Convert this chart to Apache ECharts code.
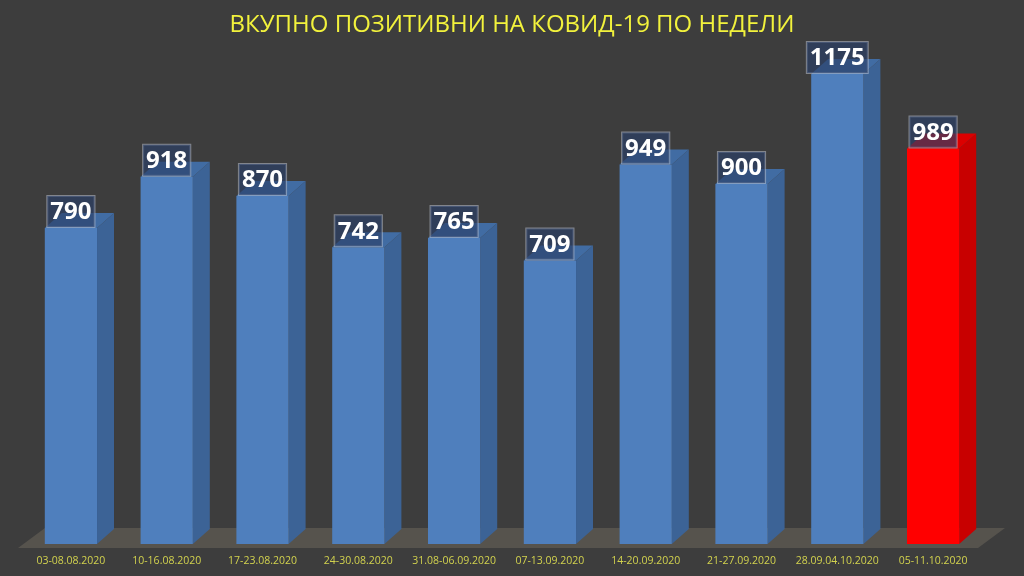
<!DOCTYPE html>
<html>
<head>
<meta charset="utf-8">
<script src="https://cdn.jsdelivr.net/npm/echarts@6/dist/echarts.min.js"></script>
<style>
  html, body { margin: 0; padding: 0; background: #3d3d3d; }
  #chart { width: 1024px; height: 576px; }
</style>
</head>
<body>
<div id="chart"></div>
<script>
// недели и вкупно позитивни
var weeks = ['03-08.08.2020', '10-16.08.2020', '17-23.08.2020', '24-30.08.2020', '31.08-06.09.2020',
             '07-13.09.2020', '14-20.09.2020', '21-27.09.2020', '28.09.04.10.2020', '05-11.10.2020'];
var positives = [790, 918, 870, 742, 765, 709, 949, 900, 1175, 989];
var highlightWeek = '05-11.10.2020';

var chart = echarts.init(document.getElementById('chart'));

// длабочина на 3D столбот
var DX = 17, DY = -15;

function renderBar(params, api) {
  var idx = api.value(0);
  var val = api.value(1);
  var top = api.coord([idx, val]);
  var base = api.coord([idx, 0]);
  var w = api.size([1, 0])[0] * 0.545;
  var x = top[0] - w / 2;
  var red = weeks[idx] === highlightWeek;
  var front = red ? '#ff0000' : '#4f7fbd';
  var side = red ? '#c80000' : '#3c6396';
  var cap = red ? '#dc0000' : '#416ca3';
  return {
    type: 'group',
    children: [
      { type: 'polygon', shape: { points: [[x + w, top[1]], [x + w + DX, top[1] + DY], [x + w + DX, base[1] + DY], [x + w, base[1]]] },
        style: { fill: side } },
      { type: 'polygon', shape: { points: [[x, top[1]], [x + DX, top[1] + DY], [x + w + DX, top[1] + DY], [x + w, top[1]]] },
        style: { fill: cap } },
      { type: 'rect', shape: { x: x, y: top[1], width: w, height: base[1] - top[1] },
        style: { fill: front } },
      { type: 'text', x: top[0], y: top[1] - 1,
        style: {
          text: String(val), fill: '#ffffff', fontSize: 24, fontWeight: 'bold', fontFamily: 'Open Sans',
          align: 'center', verticalAlign: 'bottom', lineHeight: 29,
          backgroundColor: 'rgba(42,64,104,0.66)', borderColor: 'rgba(200,205,220,0.5)', borderWidth: 1,
          padding: [2, 3, 0, 3]
        } }
    ]
  };
}

function renderFloor(params, api) {
  var cs = params.coordSys;
  var y0 = api.coord([0, 0])[1];
  var l = cs.x - 5, r = cs.x + cs.width - 3;
  return {
    type: 'polygon',
    shape: { points: [[l, y0 + 4], [r, y0 + 4], [r + 27, y0 - 16], [l + 27, y0 - 16]] },
    style: { fill: '#56534d' }
  };
}

var option = {
  backgroundColor: '#3d3d3d',
  title: {
    text: 'ВКУПНО ПОЗИТИВНИ НА КОВИД-19 ПО НЕДЕЛИ',
    left: 'center',
    top: 8,
    textStyle: { color: '#f2f23c', fontSize: 24, fontWeight: 'normal', fontFamily: 'Open Sans' }
  },
  grid: { left: 23, right: 43, top: 24, bottom: 32 },
  xAxis: {
    type: 'category',
    data: weeks,
    axisLine: { show: false },
    axisTick: { show: false },
    axisLabel: { color: '#d2d24e', fontSize: 10.5, margin: 12, fontFamily: 'Open Sans', interval: 0 }
  },
  yAxis: {
    type: 'value',
    min: 0,
    max: 1300,
    show: false,
    splitLine: { show: false }
  },
  series: [
    {
      type: 'custom',
      renderItem: renderFloor,
      data: [[0]],
      z: 1,
      silent: true
    },
    {
      type: 'custom',
      renderItem: renderBar,
      encode: { x: 0, y: 1 },
      data: positives.map(function (v, i) { return [i, v]; }),
      z: 2
    }
  ]
};

chart.setOption(option);
</script>
</body>
</html>
